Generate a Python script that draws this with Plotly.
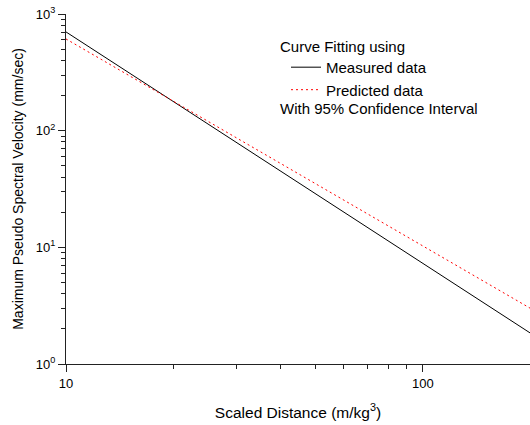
import plotly.graph_objects as go

# Data (log-log fitted lines)
scaled_distance = [10, 20, 50, 100, 200]
measured_ppv = [702, 177, 28.8, 7.3, 1.84]
predicted_ppv = [611, 179, 35.1, 10.3, 3.0]

y_tick_vals = [1, 10, 100, 1000]
y_tick_text = ["10<sup>0</sup>", "10<sup>1</sup>", "10<sup>2</sup>", "10<sup>3</sup>"]
x_tick_vals = [10, 100]
x_tick_text = ["10", "100"]

FONT = "Liberation Sans, Arial, sans-serif"

x_minor = [m * d for d in (10, 100) for m in range(2, 10)]
y_minor = [m * d for d in (1, 10, 100) for m in range(2, 10)]

fig = go.Figure()
fig.add_trace(go.Scatter(x=scaled_distance, y=measured_ppv, mode="lines",
                         name="Measured data",
                         line=dict(color="black", width=1)))
fig.add_trace(go.Scatter(x=scaled_distance, y=predicted_ppv, mode="lines",
                         name="Predicted data",
                         line=dict(color="red", width=1, dash="2px,3px")))

axis_common = dict(
    type="log", showgrid=False, zeroline=False,
    showline=True, linecolor="#222", linewidth=1,
    ticks="outside", ticklen=7, tickwidth=1, tickcolor="#222",
    tickfont=dict(family=FONT, size=13, color="black"),
    mirror=False,
)

fig.update_xaxes(**axis_common, range=[1, 2.3], tickvals=x_tick_vals, ticktext=x_tick_text,
                 minor=dict(ticks="outside", ticklen=4, tickcolor="#222", tickvals=x_minor),
                 title=dict(text="Scaled Distance (m/kg<sup>3</sup>)",
                            font=dict(family=FONT, size=15.5, color="black"), standoff=17))
fig.update_yaxes(**axis_common, range=[0, 3], tickvals=y_tick_vals, ticktext=y_tick_text,
                 minor=dict(ticks="outside", ticklen=4, tickcolor="#222", tickvals=y_minor),
                 title=dict(text="Maximum Pseudo Spectral Velocity (mm/sec)",
                            font=dict(family=FONT, size=14, color="black"), standoff=8))

fig.update_layout(
    width=530, height=425,
    margin=dict(l=66, r=0, t=14, b=61, autoexpand=False),
    paper_bgcolor="white", plot_bgcolor="white",
    showlegend=True,
    legend=dict(x=(286 - 66) / 464, y=0.8945, xanchor="left", yanchor="top",
                bgcolor="rgba(0,0,0,0)", borderwidth=0,
                font=dict(family=FONT, size=15, color="black"),
                tracegroupgap=0, itemwidth=30),
    annotations=[
        dict(text="Curve Fitting using", xref="paper", yref="paper",
             x=(278 - 66) / 464, y=1 - (46 - 14) / 350, xanchor="left", yanchor="middle",
             showarrow=False, font=dict(family=FONT, size=15, color="black")),
        dict(text="With 95% Confidence Interval", xref="paper", yref="paper",
             x=(278 - 66) / 464, y=1 - (109 - 14) / 350, xanchor="left", yanchor="middle",
             showarrow=False, font=dict(family=FONT, size=15, color="black")),
    ],
)

fig.write_html("out.html")
